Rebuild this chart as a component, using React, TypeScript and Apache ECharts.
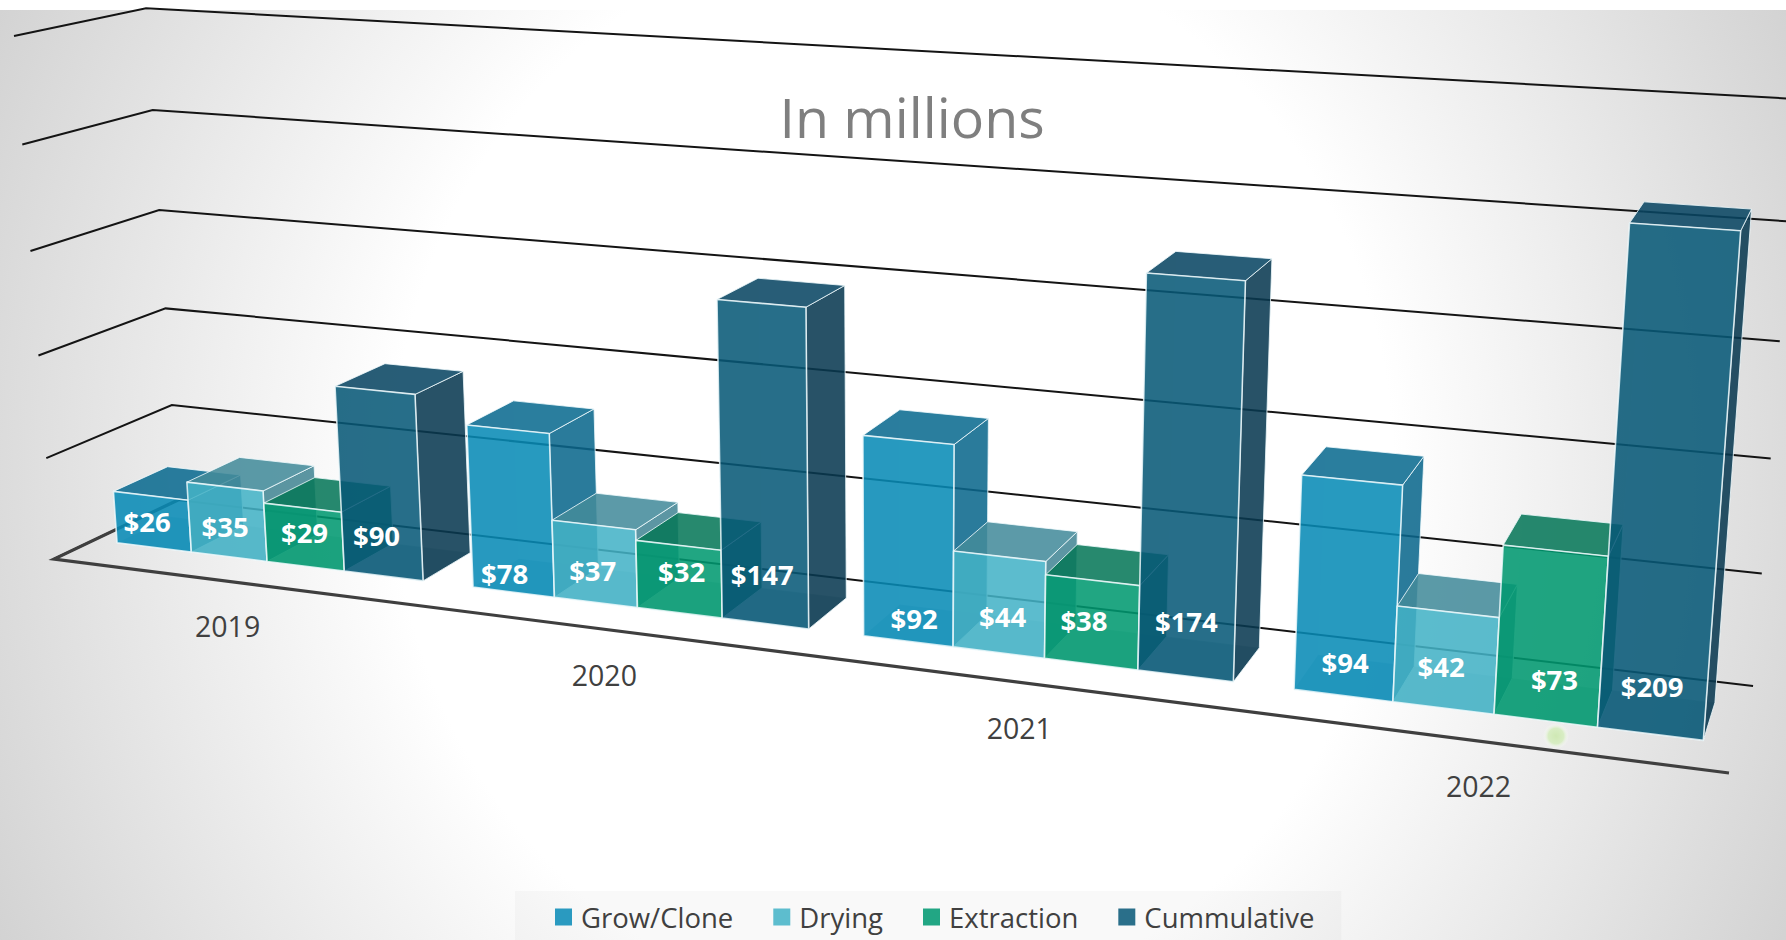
import React, { useEffect, useRef } from "react";
import * as echarts from "echarts";

const W = 1786;
const H = 940;

const categories = ["2019", "2020", "2021", "2022"];
const growClone = [26, 78, 92, 94];
const drying = [35, 37, 44, 42];
const extraction = [29, 32, 38, 73];
const cumulative = [90, 147, 174, 209];
const yTicks = [0, 50, 100, 150, 200, 250];
const seriesNames = ["Grow/Clone", "Drying", "Extraction", "Cummulative"];

// Perspective of the 3D plot box (screen anchors of its corners)
const O = [54, 559];
const E = [1729, 773];
const B = [178, 500];
const T = [14, 36];
const wu = -0.18;
const wv = 0.0662;
const wh = -0.045;
const A = [(1 + wu) * E[0] - O[0], (1 + wu) * E[1] - O[1]];
const C = [(1 + wv) * B[0] - O[0], (1 + wv) * B[1] - O[1]];
const D = [(1 + wh) * T[0] - O[0], (1 + wh) * T[1] - O[1]];
function project(u: number, v: number, h: number) {
  const d = 1 + u * wu + v * wv + h * wh;
  return [
    (O[0] + u * A[0] + v * C[0] + h * D[0]) / d,
    (O[1] + u * A[1] + v * C[1] + h * D[1]) / d,
  ];
}

const V_FRONT = 0.31;
const V_BACK = 0.75;
const GROUP_FRACTION = 0.865;

const palette = [
  { front: "#2A9AC0", top: "#2D7F9F", side: "#2C7B9C" },
  { front: "#5DBDCE", top: "#5E9BA8", side: "#5E97A3" },
  { front: "#22A684", top: "#2A8A70", side: "#2A8670" },
  { front: "#2A6F8A", top: "#2B5F78", side: "#2B5468" },
];
const labelDx = [
  [-7, -9, 6, 2],
  [-4, -3, 4, -2],
  [-1, 2, -7, 9],
  [-7, -3, 1, 2],
];
const labelLift = [
  [26, 19, 23, 33],
  [30, 32, 36, 41],
  [34, 41, 44, 41],
  [40, 49, 54, 47],
];

const ALPHA = 0.86;
function throughAlpha(hex: string, a: number) {
  const n = parseInt(hex.slice(1), 16);
  const f = (c: number) =>
    Math.max(0, Math.min(255, Math.round((c - (1 - a) * 255) / a)));
  return `rgb(${f((n >> 16) & 255)},${f((n >> 8) & 255)},${f(n & 255)})`;
}

function normaliser(params: any, api: any) {
  const cs = params.coordSys;
  return {
    toH: (value: number) => (cs.y + cs.height - api.coord([0, value])[1]) / cs.height,
    toU: (px: number) => (px - cs.x) / cs.width,
    bandU: api.size([1, 0])[0] / cs.width,
  };
}

function renderGrid(params: any, api: any) {
  const n = normaliser(params, api);
  const value = api.value(1);
  const h = n.toH(value);
  const children: any[] = [
    {
      type: "polyline",
      shape: { points: [project(0, 0, h), project(0, 1, h), project(1, 1, h)] },
      style: { fill: "none", stroke: "#141414", lineWidth: 2 },
    },
  ];
  if (value === 0) {
    children.push({
      type: "polyline",
      shape: { points: [project(0, 1, 0), project(0, 0, 0), project(1, 0, 0)] },
      style: { fill: "none", stroke: "#3F3F3F", lineWidth: 3.2 },
    });
  }
  return { type: "group", children };
}

function renderCategory(params: any, api: any) {
  const n = normaliser(params, api);
  const i = api.value(0);
  const uc = n.toU(api.coord([i, 0])[0]);
  const p = project(uc, 0, 0);
  return {
    type: "text",
    style: {
      text: categories[i],
      x: p[0] - 2,
      y: p[1] + 45,
      fill: "#404040",
      font: '400 28.5px "Open Sans"',
      align: "center",
      verticalAlign: "middle",
    },
  };
}

function makeBarRenderer(si: number) {
  return function renderBar(params: any, api: any) {
    const n = normaliser(params, api);
    const i = api.value(0);
    const value = api.value(1);
    const h = n.toH(value);
    const uc = n.toU(api.coord([i, 0])[0]);
    const bw = (n.bandU * GROUP_FRACTION) / 4;
    const u0 = uc + (si - 2) * bw;
    const u1 = u0 + bw;
    const c = palette[si];
    const P = (u: number, v: number, y: number) => project(u, v, y);
    const v0 = V_FRONT;
    const v1 = V_BACK;
    const poly = (points: number[][], fill: string, opacity: number, stroke: string, lw: number) => ({
      type: "polygon",
      shape: { points },
      style: { fill, opacity, stroke, lineWidth: lw, lineJoin: "round" },
    });
    const inner = "rgba(255,255,255,0.4)";
    const edge = "rgba(240,250,252,0.95)";
    const frontFill = throughAlpha(c.front, ALPHA);
    const topFill = throughAlpha(c.top, ALPHA);
    const sideFill = throughAlpha(c.side, ALPHA);
    const pc = P((u0 + u1) / 2, v0, 0);
    return {
      type: "group",
      children: [
        poly([P(u0, v0, 0), P(u1, v0, 0), P(u1, v1, 0), P(u0, v1, 0)], c.top, 0.3, inner, 0.8),
        poly([P(u0, v1, 0), P(u1, v1, 0), P(u1, v1, h), P(u0, v1, h)], c.front, 0.1, inner, 1),
        poly([P(u0, v0, 0), P(u0, v1, 0), P(u0, v1, h), P(u0, v0, h)], c.side, 0.1, inner, 1),
        poly([P(u1, v0, 0), P(u1, v1, 0), P(u1, v1, h), P(u1, v0, h)], sideFill, ALPHA, edge, 1),
        poly([P(u0, v0, h), P(u1, v0, h), P(u1, v1, h), P(u0, v1, h)], topFill, ALPHA, edge, 1),
        poly([P(u0, v0, 0), P(u1, v0, 0), P(u1, v0, h), P(u0, v0, h)], frontFill, ALPHA, edge, 1.6),
        {
          type: "text",
          z2: 50,
          style: {
            text: `$${value}`,
            x: pc[0] + labelDx[si][i],
            y: pc[1] - labelLift[si][i],
            fill: "#FFFFFF",
            font: 'bold 27.5px "Open Sans"',
            align: "center",
            verticalAlign: "middle",
          },
        },
      ],
    };
  };
}

function toRows(values: number[]) {
  return values.map((v, i) => [i, v]);
}

export default function App() {
  const ref = useRef<HTMLDivElement>(null);
  useEffect(() => {
    if (!ref.current) return;
    const chart = echarts.init(ref.current, undefined, { renderer: "svg" });
    const seriesValues = [growClone, drying, extraction, cumulative];
    chart.setOption({
      animation: false,
      backgroundColor: "transparent",
      title: {
        text: "In millions",
        left: 907,
        top: 83,
        textAlign: "center",
        textStyle: { color: "#7F7F7F", fontFamily: "Open Sans", fontWeight: 400, fontSize: 55.5 },
      },
      grid: { left: 0, top: 0, width: W, height: H },
      xAxis: { type: "category", data: categories, show: false },
      yAxis: { type: "value", min: 0, max: 250, interval: 50, show: false },
      legend: {
        data: seriesNames,
        left: 515,
        top: 891,
        padding: [12, 27, 14, 40],
        backgroundColor: "rgba(0,0,0,0.025)",
        icon: "rect",
        itemWidth: 17,
        itemHeight: 17,
        itemGap: 40,
        textStyle: { color: "#404040", fontFamily: "Open Sans", fontSize: 27.5, padding: [0, 0, 0, 4] },
      },
      graphic: [
        {
          type: "circle",
          silent: true,
          z: 0,
          shape: { cx: 1556, cy: 736, r: 13 },
          style: {
            fill: new echarts.graphic.RadialGradient(0.5, 0.5, 0.5, [
              { offset: 0, color: "#CFE8B4" },
              { offset: 0.6, color: "#D8EDC4" },
              { offset: 1, color: "rgba(255,255,255,0)" },
            ]),
          },
        },
      ],
      series: [
        {
          type: "custom",
          name: "gridlines",
          silent: true,
          clip: false,
          data: yTicks.map((v) => [0, v]),
          renderItem: renderGrid,
        },
        {
          type: "custom",
          name: "categories",
          silent: true,
          clip: false,
          data: categories.map((_, i) => [i, 0]),
          renderItem: renderCategory,
        },
        ...seriesNames.map((name, si) => ({
          type: "custom",
          name,
          silent: true,
          clip: false,
          itemStyle: { color: palette[si].front },
          data: toRows(seriesValues[si]),
          renderItem: makeBarRenderer(si),
        })),
      ],
    });
    return () => chart.dispose();
  }, []);
  return (
    <div
      style={{
        position: "fixed",
        left: 0,
        top: 0,
        width: W,
        height: H,
        overflow: "hidden",
        backgroundColor: "#FFFFFF",
        backgroundImage:
          "radial-gradient(ellipse 1000px 1080px at 893px 460px, #FFFFFF 0%, #FFFFFF 50%, #D2D2D2 100%)",
        backgroundSize: `${W}px ${H - 10}px`,
        backgroundPosition: "0 10px",
        backgroundRepeat: "no-repeat",
      }}
    >
      <div ref={ref} style={{ width: W, height: H }} />
    </div>
  );
}
